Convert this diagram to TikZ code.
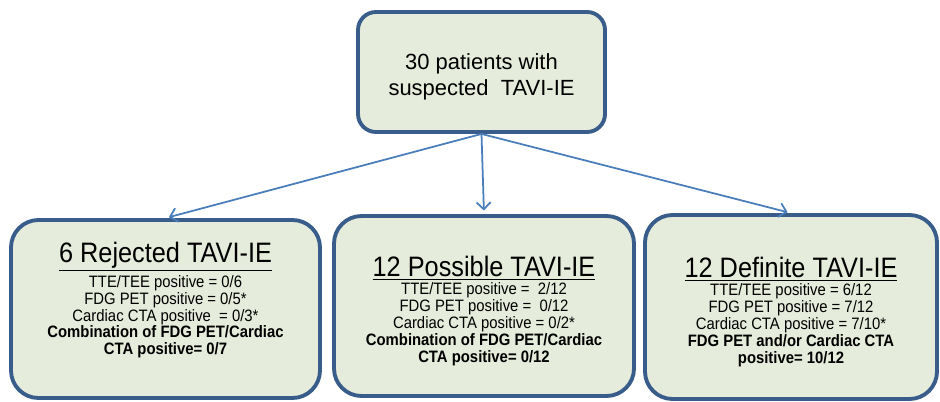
\documentclass[tikz,border=0pt]{standalone}
\usepackage{fontspec}
\setmainfont{Liberation Sans}
\newfontfamily\boxfont{Liberation Sans}[FakeStretch=0.9]
\usetikzlibrary{arrows.meta}

\definecolor{boxblue}{RGB}{56,93,138}
\definecolor{boxfill}{RGB}{230,236,219}
\definecolor{arrowblue}{RGB}{74,126,187}

\newcommand{\boxtitle}[1]{{\fontsize{16}{17}\selectfont\underline{#1}}}

\begin{document}
\begin{tikzpicture}[shorten >=2pt,
		box_style/.style={draw=boxblue,fill=boxfill,line width=2.2pt,rounded corners=0.55cm,align=center,inner sep=0pt,font=\boxfont\fontsize{9.4}{9.6}\selectfont},
		top_style/.style={box_style,rounded corners=0.36cm,font=\rmfamily\fontsize{12.5}{15}\selectfont},
		edge_style/.style={draw=arrowblue,line width=1pt,-{Straight Barb[length=4pt,width=8pt]}}]
		
		\useasboundingbox (0,0) rectangle (18.8,8.02);
		
		\node[top_style,minimum width=4.94cm,minimum height=2.4cm] (n0) at (9.63,6.58)
			{\rule{0pt}{0.5cm}30 patients with\\suspected~~TAVI-IE};
		
		% the three outcome groups
		\node[box_style,minimum width=6.18cm,minimum height=3.56cm] (n1) at (3.31,1.84)
			{\boxtitle{6 Rejected TAVI-IE}\\[1pt]
			TTE/TEE positive = 0/6\\
			FDG PET positive = 0/5*\\
			Cardiac CTA positive~~= 0/3*\\
			\textbf{Combination of FDG PET/Cardiac}\\
			\textbf{CTA positive= 0/7}\rule[-0.42cm]{0pt}{0.42cm}};
		\node[box_style,minimum width=6cm,minimum height=3.6cm] (n2) at (9.68,1.9)
			{\rule{0pt}{0.6cm}\boxtitle{12 Possible TAVI-IE}\\[1pt]
			TTE/TEE positive =~~2/12\\
			FDG PET positive =~~0/12\\
			Cardiac CTA positive = 0/2*\\
			\textbf{Combination of FDG~PET/Cardiac}\\
			\textbf{CTA positive= 0/12}};
		\node[box_style,minimum width=5.84cm,minimum height=3.68cm] (n3) at (15.82,1.88)
			{\rule{0pt}{0.6cm}\boxtitle{12 Definite TAVI-IE}\\[1pt]
			TTE/TEE positive = 6/12\\
			FDG PET positive = 7/12\\
			Cardiac CTA positive = 7/10*\\
			\textbf{FDG PET and/or Cardiac CTA}\\
			\textbf{positive= 10/12}};
		
		\draw[edge_style]  (n0.south) -- (n1.north);
		\draw[edge_style]  (n0.south) -- (n2.north);
		\draw[edge_style]  (n0.south) -- (n3.north);
		
\end{tikzpicture}
\end{document}
